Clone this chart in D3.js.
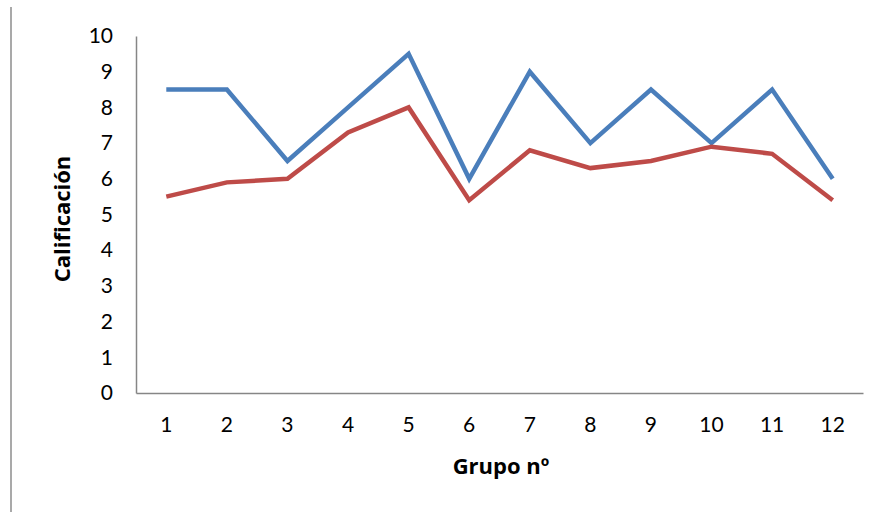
<!DOCTYPE html>
<html>
<head>
<meta charset="utf-8">
<script src="https://cdn.jsdelivr.net/npm/d3@7/dist/d3.min.js"></script>
<style>
  html, body { margin: 0; padding: 0; background: #fff; }
  svg { display: block; font-family: Lato, "Open Sans", sans-serif; }
</style>
</head>
<body>
<svg id="chart" width="882" height="512"></svg>
<script>
// Grupos evaluados y calificaciones medias por serie
const grupos = ["1", "2", "3", "4", "5", "6", "7", "8", "9", "10", "11", "12"];
const serieAzul = [8.5, 8.5, 6.5, 8, 9.5, 6, 9, 7, 8.5, 7, 8.5, 6];
const serieRoja = [5.5, 5.9, 6.0, 7.3, 8.0, 5.4, 6.8, 6.3, 6.5, 6.9, 6.7, 5.4];
const yTicks = [0, 1, 2, 3, 4, 5, 6, 7, 8, 9, 10];

const series = [
  { valores: serieAzul, color: "#4A7EBB" },
  { valores: serieRoja, color: "#BE4B48" }
];

const svg = d3.select("#chart");
const plot = { left: 136, right: 863, top: 36, bottom: 393 };

const x = d3.scaleBand().domain(grupos).range([plot.left, plot.right]);
const y = d3.scaleLinear().domain([0, 10]).range([plot.bottom, plot.top]);

// marco izquierdo del área del gráfico
svg.append("line")
  .attr("x1", 11).attr("x2", 11).attr("y1", 7).attr("y2", 512)
  .attr("stroke", "#8c8c8c").attr("stroke-width", 1.5);

// eje Y
const yAxis = svg.append("g")
  .attr("transform", `translate(${plot.left},0)`)
  .call(d3.axisLeft(y).tickValues(yTicks).tickSize(0).tickPadding(23).tickFormat(d3.format("d")));
yAxis.select(".domain").attr("stroke", "#868686").attr("stroke-width", 1.5);
yAxis.selectAll("text").attr("font-size", 21).attr("fill", "#000")
  .attr("font-family", "Lato, sans-serif");

// eje X
const xAxis = svg.append("g")
  .attr("transform", `translate(0,${plot.bottom})`)
  .call(d3.axisBottom(x).tickSize(0).tickPadding(24));
xAxis.select(".domain").attr("stroke", "#868686").attr("stroke-width", 1.5);
xAxis.selectAll("text").attr("font-size", 21).attr("fill", "#000")
  .attr("font-family", "Lato, sans-serif");

// líneas de las series
const line = d3.line()
  .x((d, i) => x(grupos[i]) + x.bandwidth() / 2)
  .y(d => y(d));

svg.selectAll("path.serie")
  .data(series)
  .join("path")
  .attr("class", "serie")
  .attr("d", d => line(d.valores))
  .attr("fill", "none")
  .attr("stroke", d => d.color)
  .attr("stroke-width", 4.5)
  .attr("stroke-linejoin", "miter");

// títulos de los ejes
svg.append("text")
  .attr("transform", `translate(70,219) rotate(-90)`)
  .attr("text-anchor", "middle")
  .attr("font-family", "'Open Sans', sans-serif")
  .attr("font-size", 22).attr("font-weight", "bold")
  .text("Calificación");

svg.append("text")
  .attr("x", 501).attr("y", 474)
  .attr("text-anchor", "middle")
  .attr("font-family", "'Open Sans', sans-serif")
  .attr("font-size", 22).attr("font-weight", "bold")
  .text("Grupo nº");
</script>
</body>
</html>
